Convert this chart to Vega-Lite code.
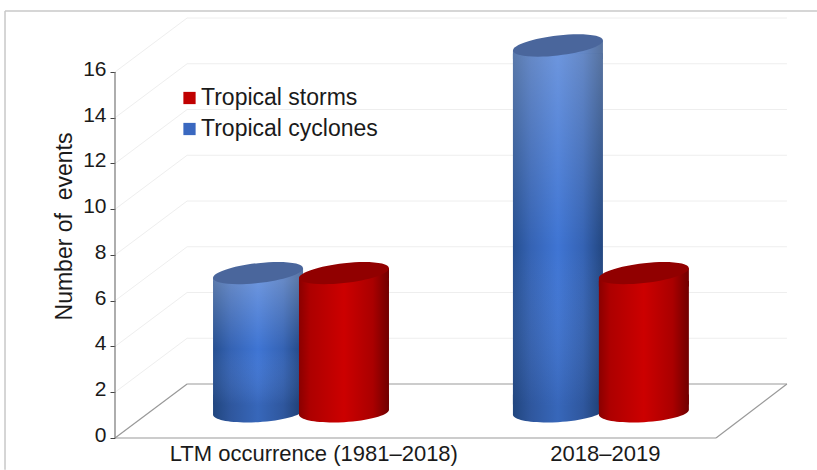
{
"$schema":"https://vega.github.io/schema/vega-lite/v6.json",
"width":817,"height":470,"autosize":{"type":"none"},"padding":0,"background":"white",
"config":{"view":{"stroke":null},"font":"Liberation Sans"},
"datasets":{
"bars":[
{"period":"LTM occurrence (1981–2018)","series":"Tropical cyclones","x":0.476,"y":6.05},
{"period":"LTM occurrence (1981–2018)","series":"Tropical storms","x":0.762,"y":6.05},
{"period":"2018–2019","series":"Tropical cyclones","x":1.474,"y":16},
{"period":"2018–2019","series":"Tropical storms","x":1.76,"y":6.05}
],
"lines":[
{"kind":"frame","x":-0.366,"y":18.67,"x2":2.336,"y2":18.67},
{"kind":"frame","x":-0.366,"y":18.67,"x2":-0.366,"y2":-1.39},
{"kind":"grid","x":0,"y":2,"x2":0.24,"y2":4.36},
{"kind":"grid","x":0.24,"y":4.36,"x2":2.236,"y2":4.36},
{"kind":"grid","x":0,"y":4,"x2":0.24,"y2":6.36},
{"kind":"grid","x":0.24,"y":6.36,"x2":2.236,"y2":6.36},
{"kind":"grid","x":0,"y":6,"x2":0.24,"y2":8.36},
{"kind":"grid","x":0.24,"y":8.36,"x2":2.236,"y2":8.36},
{"kind":"grid","x":0,"y":8,"x2":0.24,"y2":10.36},
{"kind":"grid","x":0.24,"y":10.36,"x2":2.236,"y2":10.36},
{"kind":"grid","x":0,"y":10,"x2":0.24,"y2":12.36},
{"kind":"grid","x":0.24,"y":12.36,"x2":2.236,"y2":12.36},
{"kind":"grid","x":0,"y":12,"x2":0.24,"y2":14.36},
{"kind":"grid","x":0.24,"y":14.36,"x2":2.236,"y2":14.36},
{"kind":"grid","x":0,"y":14,"x2":0.24,"y2":16.36},
{"kind":"grid","x":0.24,"y":16.36,"x2":2.236,"y2":16.36},
{"kind":"grid","x":0,"y":16,"x2":0.24,"y2":18.36},
{"kind":"grid","x":0.24,"y":18.36,"x2":2.236,"y2":18.36},
{"kind":"floor","x":0,"y":0,"x2":0.24,"y2":2.36},
{"kind":"floor","x":0.24,"y":2.36,"x2":2.236,"y2":2.36},
{"kind":"floor","x":2.236,"y":2.36,"x2":2,"y2":0},
{"kind":"floor","x":0,"y":0,"x2":2,"y2":0},
{"kind":"axis","x":0,"y":0,"x2":0,"y2":16}
]},
"data":{"name":"lines"},
"encoding":{
"x":{"field":"x","type":"quantitative","scale":{"domain":[-0.3827,2.33611],"nice":false,"zero":false,"padding":0},
 "axis":{"values":[0.66,1.63],"labelExpr":"datum.value<1?'LTM occurrence (1981–2018)':'2018–2019'","offset":-32,"domain":false,"ticks":false,"grid":false,"title":null,"labelFontSize":22,"labelLimit":500,"labelColor":"#1a1a1a","labelPadding":5,"labelFont":"Liberation Sans","labelOverlap":false}},
"y":{"field":"y","type":"quantitative","scale":{"domain":[-1.39891,19.14754],"nice":false,"zero":false},
 "axis":{"values":[0,2,4,6,8,10,12,14,16],"offset":-115,"domain":false,"grid":false,"tickSize":5,"tickColor":"#444","labelFontSize":21,"labelColor":"#1a1a1a","labelPadding":4,"labelOffset":-2.5,"labelFont":"Liberation Sans","labelOverlap":false,"title":"Number of\u00a0\u00a0events","titleFontSize":23,"titleFontWeight":"normal","titleColor":"#1a1a1a","titleFont":"Liberation Sans","titleX":-39,"titleY":226}}
},
"layer":[
{"transform":[{"filter":"datum.kind==='frame'"}],"mark":{"type":"rule","stroke":"#c8c8c8","strokeWidth":1.5},"encoding":{"x2":{"field":"x2"},"y2":{"field":"y2"}}},
{"transform":[{"filter":"datum.kind==='grid'"}],"mark":{"type":"rule","stroke":"#eeeeee","strokeWidth":1},"encoding":{"x2":{"field":"x2"},"y2":{"field":"y2"}}},
{"transform":[{"filter":"datum.kind==='floor'"}],"mark":{"type":"rule","stroke":"#999999","strokeWidth":1.2},"encoding":{"x2":{"field":"x2"},"y2":{"field":"y2"}}},
{"transform":[{"filter":"datum.kind==='axis'"}],"mark":{"type":"rule","stroke":"#777777","strokeWidth":1.2},"encoding":{"x2":{"field":"x2"},"y2":{"field":"y2"}}},

{"data":{"name":"bars"},"transform":[{"filter":"datum.series==='Tropical cyclones'"}],
 "mark":{"type":"point","filled":true,"opacity":1,"yOffset":-25.5,"size":8100,"shape":"M-1,0.055 A1.002,0.22,-3.3,0,0,1,-0.055 L1,-0.4 L-1,-0.4 Z",
 "fill":{"gradient":"linear","x1":0,"y1":0,"x2":1,"y2":0,"stops":[{"offset":0,"color":"#21467f"},{"offset":0.2,"color":"#2f579e"},{"offset":0.5,"color":"#3767ba"},{"offset":0.78,"color":"#2f579e"},{"offset":1,"color":"#1e3e71"}]}},
 "encoding":{"y":{"datum":0}}},
{"data":{"name":"bars"},"transform":[{"filter":"datum.series==='Tropical cyclones'"}],
 "mark":{"type":"point","filled":true,"opacity":1,"yOffset":-26.5,"size":8100,"shape":"M-1,0.11 L1,-0.11 L1,0.3 L-1,0.3 Z",
 "fill":{"gradient":"linear","x1":0,"y1":0,"x2":1,"y2":0,"stops":[{"offset":0,"color":"#5a79ab"},{"offset":0.2,"color":"#6588c6"},{"offset":0.5,"color":"#6d96de"},{"offset":0.78,"color":"#6588c6"},{"offset":1,"color":"#57729e"}]}}},
{"data":{"name":"bars"},"transform":[{"filter":"datum.series==='Tropical cyclones'"}],
 "mark":{"type":"bar","orient":"vertical","width":90,"yOffset":-18.5,"y2Offset":-33.5,
 "fill":{"gradient":"linear","x1":0,"y1":0,"x2":1,"y2":0,"stops":[{"offset":0,"color":"#264f90"},{"offset":0.2,"color":"#3563b4"},{"offset":0.5,"color":"#3f75d4"},{"offset":0.78,"color":"#3563b4"},{"offset":1,"color":"#224680"}]}},
 "encoding":{"y":{"field":"y","type":"quantitative","stack":null},"y2":{"datum":0}}},
{"data":{"name":"bars"},"transform":[{"filter":"datum.series==='Tropical cyclones'"}],
 "mark":{"type":"bar","orient":"vertical","width":90,"yOffset":-18.5,"y2Offset":-33.5,
 "fill":{"gradient":"linear","x1":0,"y1":0,"x2":0,"y2":1,"stops":[{"offset":0,"color":"rgba(255,255,255,0.24)"},{"offset":0.55,"color":"rgba(255,255,255,0)"},{"offset":1,"color":"rgba(0,0,0,0.12)"}]}},
 "encoding":{"y":{"field":"y","type":"quantitative","stack":null},"y2":{"datum":0}}},
{"data":{"name":"bars"},"transform":[{"filter":"datum.series==='Tropical cyclones'"}],
 "mark":{"type":"point","filled":true,"opacity":1,"yOffset":-26.5,"size":8100,"fill":"#4a669c","shape":"M-1,0.11 A1.006,0.22,-6.6,0,1,1,-0.11 A1.006,0.22,-6.6,0,1,-1,0.11 Z"}},

{"data":{"name":"bars"},"transform":[{"filter":"datum.series==='Tropical storms'"}],
 "mark":{"type":"point","filled":true,"opacity":1,"yOffset":-25.5,"size":8100,"shape":"M-1,0.055 A1.002,0.22,-3.3,0,0,1,-0.055 L1,-0.4 L-1,-0.4 Z",
 "fill":{"gradient":"linear","x1":0,"y1":0,"x2":1,"y2":0,"stops":[{"offset":0,"color":"#8a0000"},{"offset":0.12,"color":"#ad0000"},{"offset":0.5,"color":"#cc0000"},{"offset":0.82,"color":"#aa0000"},{"offset":1,"color":"#700000"}]}},
 "encoding":{"y":{"datum":0}}},
{"data":{"name":"bars"},"transform":[{"filter":"datum.series==='Tropical storms'"}],
 "mark":{"type":"point","filled":true,"opacity":1,"yOffset":-26.5,"size":8100,"shape":"M-1,0.11 L1,-0.11 L1,0.3 L-1,0.3 Z",
 "fill":{"gradient":"linear","x1":0,"y1":0,"x2":1,"y2":0,"stops":[{"offset":0,"color":"#8a0000"},{"offset":0.12,"color":"#ad0000"},{"offset":0.5,"color":"#cc0000"},{"offset":0.82,"color":"#aa0000"},{"offset":1,"color":"#700000"}]}}},
{"data":{"name":"bars"},"transform":[{"filter":"datum.series==='Tropical storms'"}],
 "mark":{"type":"bar","orient":"vertical","width":90,"yOffset":-18.5,"y2Offset":-33.5,
 "fill":{"gradient":"linear","x1":0,"y1":0,"x2":1,"y2":0,"stops":[{"offset":0,"color":"#8a0000"},{"offset":0.12,"color":"#ad0000"},{"offset":0.5,"color":"#cc0000"},{"offset":0.82,"color":"#aa0000"},{"offset":1,"color":"#700000"}]}},
 "encoding":{"y":{"field":"y","type":"quantitative","stack":null},"y2":{"datum":0}}},
{"data":{"name":"bars"},"transform":[{"filter":"datum.series==='Tropical storms'"}],
 "mark":{"type":"point","filled":true,"opacity":1,"yOffset":-26.5,"size":8100,"fill":"#910000","shape":"M-1,0.11 A1.006,0.22,-6.6,0,1,1,-0.11 A1.006,0.22,-6.6,0,1,-1,0.11 Z"}},

{"data":{"name":"bars"},"mark":{"type":"point","filled":true,"opacity":0,"size":10},
 "encoding":{"color":{"field":"series","type":"nominal","scale":{"domain":["Tropical storms","Tropical cyclones"],"range":["#c00000","#3a68c0"]},
 "legend":{"orient":"none","legendX":178,"legendY":86.5,"title":null,"symbolType":"square","symbolSize":150,"symbolOpacity":1,"symbolStrokeWidth":0,"labelFontSize":23,"labelLimit":400,"labelColor":"#1a1a1a","labelFont":"Liberation Sans","rowPadding":7,"labelOffset":0}}}}
]
}
